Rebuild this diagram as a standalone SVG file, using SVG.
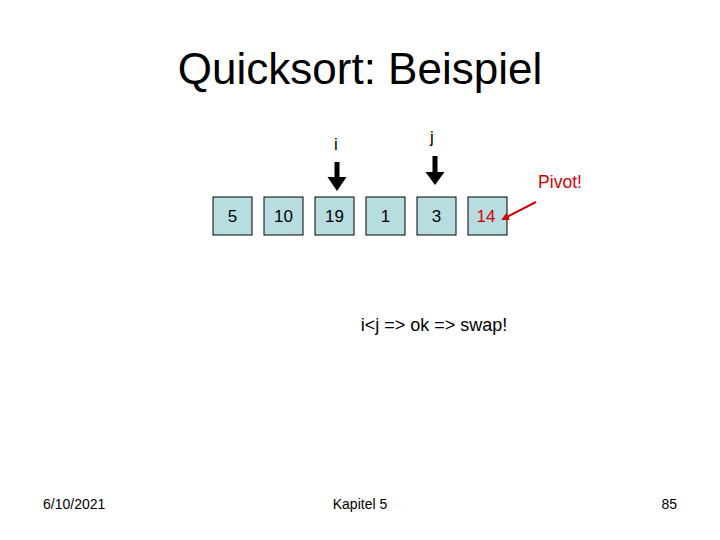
<svg xmlns="http://www.w3.org/2000/svg" width="720" height="540" viewBox="0 0 720 540">
<defs>
<style>
text{font-family:"Liberation Sans",Arial,sans-serif;fill:#000}
.box{fill:#b8dde1;stroke:#000;stroke-width:1}
.num{font-size:17px;text-anchor:middle}
.foot{font-size:14px}
.red{fill:#d40000}
</style>
<marker id="redhead" markerWidth="8" markerHeight="8" refX="6" refY="4" orient="auto" markerUnits="userSpaceOnUse">
<path d="M0,0 L8,4 L0,8 z" fill="#d40000"/>
</marker>
</defs>
<rect width="720" height="540" fill="#fff"/>
<text x="360" y="84" font-size="44" text-anchor="middle">Quicksort: Beispiel</text>
<g id="n5"><rect class="box" x="213" y="197" width="39" height="38"/><text class="num" x="232.5" y="222">5</text></g>
<g id="n10"><rect class="box" x="264" y="197" width="39" height="38"/><text class="num" x="283.5" y="222">10</text></g>
<g id="n19"><rect class="box" x="315" y="197" width="39" height="38"/><text class="num" x="334.5" y="222">19</text></g>
<g id="n1"><rect class="box" x="366" y="197" width="39" height="38"/><text class="num" x="385.5" y="222">1</text></g>
<g id="n3"><rect class="box" x="417" y="197" width="39" height="38"/><text class="num" x="436.5" y="222">3</text></g>
<g id="n14"><rect class="box" x="468" y="197" width="39" height="38"/><text class="num red" x="486" y="222">14</text></g>
<g id="labels">
<text x="336" y="150" font-size="17" text-anchor="middle">i</text>
<text x="432" y="143" font-size="17" text-anchor="middle">j</text>
<text x="560" y="188" font-size="17.5" text-anchor="middle" class="red">Pivot!</text>
<text x="434" y="331" font-size="18" text-anchor="middle">i&lt;j =&gt; ok =&gt; swap!</text>
</g>
<g id="connectors">
<path d="M334.5,162 h5 v15 h7 l-9.5,14 l-9.5,-14 h7 z" fill="#000"/>
<path d="M432.5,156 h5 v16 h7 l-9.5,13 l-9.5,-13 h7 z" fill="#000"/>
<line x1="536" y1="202" x2="503" y2="219" stroke="#d40000" stroke-width="2" marker-end="url(#redhead)"/>
</g>
<g id="footer">
<text class="foot" x="43" y="509">6/10/2021</text>
<text class="foot" x="360" y="509" text-anchor="middle">Kapitel 5</text>
<text class="foot" x="677" y="509" text-anchor="end">85</text>
</g>
</svg>
